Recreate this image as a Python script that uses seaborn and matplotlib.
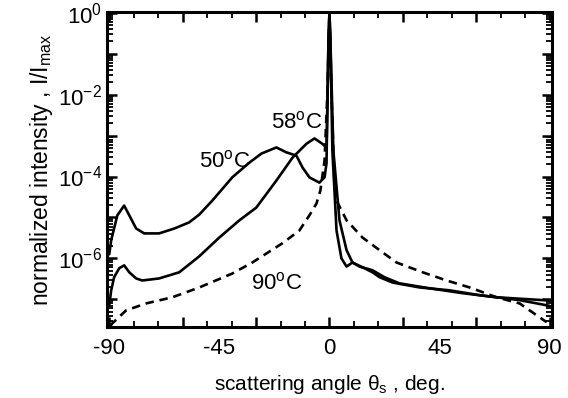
import numpy as np
import pandas as pd
import matplotlib
matplotlib.use("Agg")
import matplotlib.pyplot as plt
from matplotlib.ticker import FixedLocator, LogLocator, NullFormatter, FuncFormatter
import seaborn as sns

# ---------------------------------------------------------
# Data (angle in deg, log10 of I/Imax)
# ---------------------------------------------------------
angle_50 = [-90, -89.2, -86.7, -83.9, -81.8, -79, -75.7, -69.6, -63.4, -57.3, -53.2,
            -47.9, -39.7, -32.7, -27.8, -21.7, -17.6, -13.5, -11, -8.2, -4.1, -2.0,
            -1.2, -0.8, -0.4, 0, 0.4, 1.6, 4.1, 7.0, 9.4, 14.3, 17.6, 20.5, 25.8,
            36.8, 49.1, 61.4, 77.7, 90]
logI_50 = [-5.9, -5.56, -4.95, -4.71, -4.95, -5.27, -5.39, -5.39, -5.27, -5.12, -4.93,
           -4.59, -4.02, -3.66, -3.44, -3.29, -3.41, -3.49, -3.78, -4.02, -4.15, -4.02,
           -3.68, -2.15, -0.68, 0, -0.68, -3.37, -5.07, -5.80, -6.10, -6.24, -6.34,
           -6.46, -6.59, -6.71, -6.78, -6.90, -7.02, -7.16]

angle_58 = [-90, -89.2, -88, -85.9, -83.9, -81.8, -79, -76.5, -69.6, -61.4, -53.2,
            -45, -36.8, -29.9, -21.7, -15.1, -9.4, -6.1, -2.9, -1.2, -0.8, -0.4, 0,
            0.4, 1.2, 2.9, 4.9, 7.0, 9.4, 12.3, 17.6, 22.5, 28.6, 40.9, 54.4, 68.3,
            90]
logI_58 = [-7.15, -6.78, -6.46, -6.24, -6.17, -6.34, -6.49, -6.54, -6.49, -6.34, -5.95,
           -5.49, -5.07, -4.76, -4.10, -3.54, -3.20, -3.07, -3.20, -3.29, -2.15, -0.68,
           0, -0.68, -3.37, -5.32, -6.0, -6.2, -6.10, -6.2, -6.29, -6.46, -6.61, -6.73,
           -6.85, -6.95, -7.03]

angle_90 = [-89.5, -88.8, -83.1, -74.9, -64.2, -53.2, -39.7, -31.5, -19.2, -12.3,
            -8.2, -5.3, -3.7, -2.0, -0.8, 0, 0.8, 2.0, 2.9, 7.0, 13.5, 20.5, 27.4,
            38.1, 47.9, 57.3, 68.3, 77.7, 84.7, 88.8]
logI_90 = [-7.65, -7.59, -7.27, -7.10, -6.95, -6.71, -6.37, -6.10, -5.63, -5.32,
           -4.95, -4.66, -4.34, -3.61, -1.9, 0, -1.9, -4.1, -4.59, -5.07, -5.49, -5.80,
           -6.10, -6.34, -6.54, -6.71, -6.95, -7.10, -7.39, -7.56]

curve_labels = ["50$^{\\rm o}$C", "58$^{\\rm o}$C", "90$^{\\rm o}$C"]
label_pos = [(-43, -3.62), (-13.5, -2.68), (-21.5, -6.62)]

x_label_ticks = [-90, -45, 0, 45, 90]
x_long_ticks = [-90, -60, -30, 0, 30, 60, 90]
y_label_exps = [0, -2, -4, -6]


def build(skip=()):
    sns.set_theme(style="ticks")
    if 'font' not in skip:
        plt.rcParams['font.family'] = ['Liberation Sans', 'DejaVu Sans']
    if 'math' not in skip:
        plt.rcParams['mathtext.fontset'] = 'custom'
        plt.rcParams['mathtext.rm'] = 'Liberation Sans'
        plt.rcParams['mathtext.it'] = 'Liberation Sans:italic'
    if 'colors' not in skip:
        plt.rcParams.update({
            'text.color': 'black', 'axes.labelcolor': 'black', 'axes.edgecolor': 'black',
            'xtick.color': 'black', 'ytick.color': 'black', 'axes.linewidth': 2.2,
        })

    fig = plt.figure(figsize=(5.68, 3.98), dpi=100)
    ax = fig.add_axes([0.188, 0.178, 0.784, 0.792])

    for xs, ls, style in [(angle_50, logI_50, '-'), (angle_58, logI_58, '-'),
                          (angle_90, logI_90, (0, (3.2, 2.2)))]:
        if 'dashed' in skip and style != '-':
            style = '--'
        df = pd.DataFrame({'angle': xs, 'I': 10.0 ** np.array(ls)})
        sns.lineplot(data=df, x='angle', y='I', ax=ax, color='black', lw=1.9,
                     linestyle=style, sort=False, estimator=None)

    ax.set_yscale('log')
    ax.set_xlim(-91, 91)
    ax.set_ylim(10 ** -7.68, 10 ** 0.02)

    if 'text' not in skip:
        for txt, (tx, ty) in zip(curve_labels, label_pos):
            ax.text(tx, 10 ** ty, txt, fontsize=16, ha='center', va='center', color='black')

    x_major = sorted(set(x_label_ticks) | set(x_long_ticks))
    ax.xaxis.set_major_locator(FixedLocator(x_major))
    if 'minor' not in skip:
        ax.xaxis.set_minor_locator(FixedLocator(np.arange(-90, 91, 10)))
        ax.yaxis.set_minor_locator(LogLocator(base=10, subs=np.arange(2, 10), numticks=20))
        ax.yaxis.set_minor_formatter(NullFormatter())
    if 'ylocator' not in skip:
        ax.yaxis.set_major_locator(LogLocator(base=10, numticks=20))
    if 'formatters' not in skip:
        ax.xaxis.set_major_formatter(FuncFormatter(
            lambda v, p: "%d" % round(v) if round(v) in x_label_ticks else ""))
        ax.yaxis.set_major_formatter(FuncFormatter(
            lambda v, p: "$10^{%d}$" % round(np.log10(v))
            if round(np.log10(v)) in y_label_exps else ""))

    if 'labels' not in skip:
        ax.set_xlabel("scattering angle θ$_{\\rm s}$ , deg.", fontsize=15, labelpad=10)
        ax.set_ylabel("normalized intensity , I/I$_{\\rm max}$", fontsize=16.5, labelpad=2)

    ax.tick_params(axis='both', which='major', direction='in', length=7, width=1.8,
                   top=True, right=True, labelsize=16)
    ax.tick_params(axis='both', which='minor', direction='in', length=4, width=1.3,
                   top=True, right=True)
    ax.tick_params(axis='x', which='major', pad=8)
    if 'markerfix' not in skip:
        for tick, loc in zip(ax.xaxis.get_major_ticks(), x_major):
            if loc not in x_long_ticks:
                tick.tick1line.set_markersize(0)
                tick.tick2line.set_markersize(0)
    return fig, ax


def has_ticks(fig, ax):
    fig.canvas.draw()
    img = np.asarray(fig.canvas.buffer_rgba())[..., :3].astype(int)
    H = img.shape[0]
    x0, y0 = ax.transData.transform((-60, 10 ** -7.68))
    col, row = int(round(x0)), int(round(H - y0))
    return int(img[row - 9:row - 4, col - 1:col + 2].min())


fig, ax = build()
fig.savefig("out.png", dpi=100)
main_val = has_ticks(fig, ax)

if main_val > 100:
    report = {'main': main_val}
    for s in ['font', 'math', 'colors', 'dashed', 'text', 'minor', 'ylocator',
              'formatters', 'labels', 'markerfix']:
        f2, a2 = build(skip=(s,))
        report[s] = has_ticks(f2, a2)
        plt.close(f2)
    t = ax.xaxis.get_major_ticks()[0].tick1line
    report['tick'] = (t.get_visible(), t.get_marker(), t.get_markersize(),
                      t.get_markeredgewidth(), t.get_color(), t.get_zorder())
    raise RuntimeError(str(report))
